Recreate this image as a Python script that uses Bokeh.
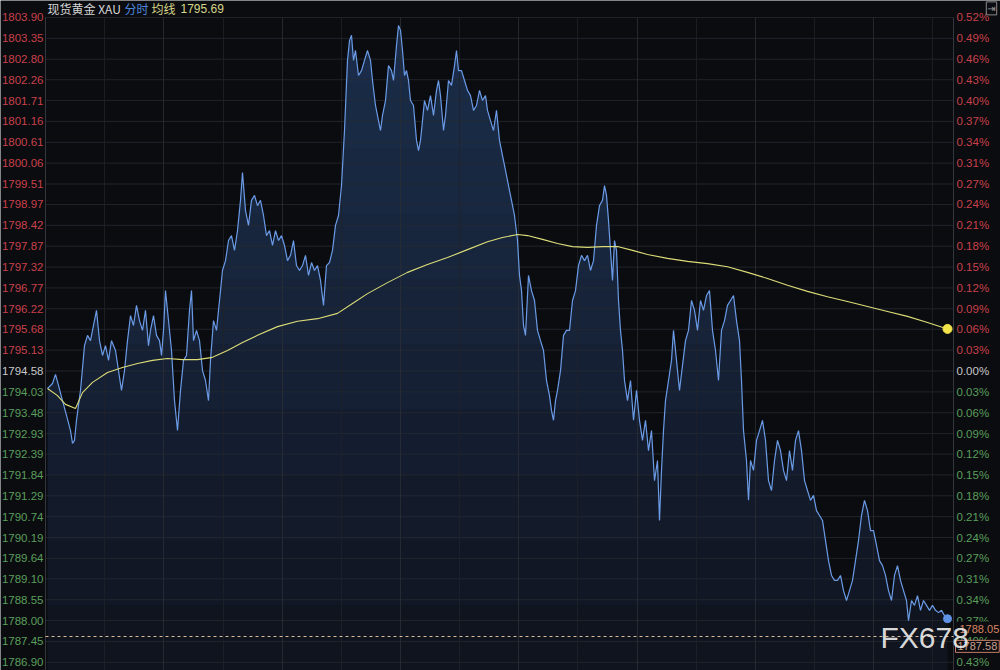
import numpy as np
from bokeh.plotting import figure
from bokeh.models import ColumnDataSource, LabelSet, Label, Range1d
from bokeh.core.properties import value
from bokeh.embed import file_html
from bokeh.resources import INLINE

# ---- data (minutes since start, price) ----
minutes = [0, 5, 8, 11, 15, 19, 23, 25, 27, 29, 33, 37, 40, 43, 46, 49, 52, 55, 58, 61,
           64, 68, 71, 74, 77, 80, 83, 86, 89, 92, 95, 98, 101, 103, 106, 109, 112, 114, 116, 118,
           121, 124, 127, 130, 133, 136, 139, 142, 144, 146, 149, 152, 155, 158, 161, 163, 166, 169, 172, 175,
           178, 181, 184, 187, 190, 193, 195, 198, 201, 204, 207, 210, 213, 216, 219, 222, 225, 228, 231, 234,
           237, 240, 243, 246, 249, 252, 255, 258, 261, 264, 267, 270, 273, 276, 279, 282, 285, 288, 291, 294,
           297, 300, 302, 304, 306, 308, 311, 314, 317, 320, 323, 325, 328, 331, 333, 335, 338, 341, 344, 346,
           349, 351, 353, 355, 357, 359, 361, 363, 366, 369, 371, 373, 375, 377, 380, 383, 386, 389, 391, 393,
           396, 398, 401, 404, 407, 409, 411, 414, 417, 420, 423, 426, 429, 432, 435, 438, 440, 443, 446, 449,
           452, 455, 458, 461, 464, 467, 470, 472, 474, 476, 478, 481, 484, 487, 490, 493, 496, 499, 502, 504,
           506, 508, 510, 513, 516, 519, 522, 525, 528, 531, 534, 537, 540, 543, 546, 549, 552, 555, 557, 559,
           561, 563, 565, 567, 569, 571, 573, 575, 577, 580, 583, 586, 589, 592, 595, 598, 601, 604, 607, 610,
           612, 614, 616, 618, 621, 624, 626, 629, 632, 635, 638, 641, 644, 647, 650, 653, 656, 659, 662, 665,
           668, 671, 674, 677, 680, 683, 686, 689, 692, 694, 696, 699, 701, 703, 706, 709, 712, 715, 718, 721,
           724, 727, 730, 733, 736, 739, 742, 745, 748, 751, 754, 757, 760, 763, 766, 769, 772, 775, 778, 781,
           784, 787, 790, 793, 796, 799, 802, 805, 808, 811, 814, 817, 820, 823, 826, 829, 832, 835, 838, 841,
           844, 847, 850, 853, 856, 859, 861, 864, 867, 870, 873, 876, 879, 882, 885, 888, 891, 894, 897, 900]
prices = [1794.12, 1794.25, 1794.49, 1794.20, 1793.80, 1793.41, 1793.01, 1792.67, 1792.75, 1793.28,
          1794.07, 1795.25, 1795.52, 1795.38, 1795.78, 1796.18, 1795.38, 1794.99, 1795.25, 1794.86,
          1795.38, 1795.12, 1794.59, 1794.07, 1794.59, 1795.38, 1796.04, 1795.78, 1796.31, 1795.91,
          1795.65, 1796.18, 1795.25, 1795.65, 1796.04, 1795.52, 1795.38, 1794.99, 1795.65, 1796.70,
          1795.91, 1795.12, 1793.80, 1793.01, 1794.07, 1794.86, 1794.99, 1796.18, 1796.70, 1795.38,
          1795.65, 1795.38, 1794.59, 1794.33, 1793.80, 1794.86, 1795.91, 1795.65, 1796.44, 1797.23,
          1797.49, 1798.02, 1798.15, 1797.76, 1798.28, 1799.08, 1799.81, 1798.81, 1798.42, 1799.08,
          1799.21, 1798.94, 1799.08, 1798.68, 1798.15, 1798.28, 1797.89, 1798.28, 1798.02, 1798.15,
          1797.89, 1797.49, 1797.63, 1798.02, 1797.36, 1797.23, 1797.36, 1797.63, 1797.10, 1797.44,
          1797.23, 1797.36, 1796.97, 1796.31, 1797.36, 1797.44, 1797.76, 1798.42, 1798.68, 1799.47,
          1800.92, 1802.77, 1803.29, 1803.43, 1802.77, 1803.03, 1802.37, 1802.50, 1802.77, 1803.03,
          1802.77, 1802.24, 1801.58, 1801.18, 1800.92, 1801.32, 1801.71, 1802.63, 1802.50, 1802.24,
          1803.16, 1803.69, 1803.56, 1803.03, 1802.37, 1802.50, 1802.24, 1801.71, 1801.58, 1800.66,
          1800.39, 1800.66, 1801.18, 1801.71, 1801.45, 1801.84, 1801.32, 1801.98, 1802.24, 1801.84,
          1800.92, 1801.32, 1802.24, 1802.11, 1802.63, 1803.03, 1802.50, 1802.50, 1802.24, 1801.98,
          1801.84, 1801.45, 1801.58, 1801.98, 1801.71, 1801.84, 1801.45, 1801.18, 1800.92, 1801.45,
          1800.66, 1800.26, 1799.87, 1799.47, 1799.08, 1798.68, 1798.02, 1797.10, 1796.70, 1795.78,
          1795.52, 1797.10, 1796.70, 1796.44, 1795.65, 1795.38, 1795.12, 1794.33, 1793.93, 1793.54,
          1793.28, 1793.80, 1794.07, 1794.59, 1795.52, 1795.65, 1795.65, 1796.44, 1796.70, 1797.36,
          1797.63, 1797.49, 1797.63, 1797.23, 1797.49, 1798.42, 1798.94, 1799.08, 1799.47, 1799.21,
          1798.55, 1797.76, 1796.97, 1798.02, 1797.76, 1796.44, 1795.65, 1795.12, 1794.33, 1793.80,
          1794.33, 1793.28, 1794.07, 1793.28, 1792.75, 1793.28, 1792.48, 1793.01, 1791.69, 1792.22,
          1790.64, 1791.96, 1793.01, 1793.80, 1794.33, 1794.86, 1795.65, 1794.86, 1794.07, 1794.73,
          1795.38, 1795.65, 1796.44, 1796.18, 1795.65, 1796.44, 1796.18, 1796.57, 1796.70, 1795.65,
          1795.12, 1794.33, 1795.65, 1795.91, 1796.31, 1796.44, 1796.57, 1795.91, 1795.38, 1794.33,
          1793.01, 1792.22, 1791.17, 1792.22, 1791.96, 1792.75, 1793.01, 1793.28, 1792.75, 1791.69,
          1791.43, 1792.22, 1792.75, 1792.48, 1791.96, 1791.69, 1792.48, 1791.96, 1792.75, 1793.01,
          1792.48, 1791.69, 1791.43, 1791.17, 1791.30, 1790.90, 1790.77, 1790.64, 1790.11, 1789.58,
          1789.19, 1789.06, 1789.06, 1789.19, 1788.79, 1788.53, 1788.79, 1789.06, 1789.58, 1790.11,
          1790.77, 1791.17, 1790.90, 1790.37, 1790.37, 1789.98, 1789.58, 1789.45, 1789.19, 1788.79,
          1788.53, 1789.19, 1789.45, 1789.06, 1788.79, 1788.53, 1788.00, 1788.53, 1788.40, 1788.66,
          1788.27, 1788.53, 1788.40, 1788.27, 1788.40, 1788.27, 1788.21, 1788.27, 1788.13, 1788.05]

avg_minutes = [0, 10, 18, 28, 35, 45, 60, 75, 90, 105, 120, 135, 150, 165, 180, 195, 210, 230, 250, 270,
               290, 305, 320, 340, 360, 380, 400, 420, 440, 455, 470, 480, 495, 510, 525, 540, 555, 570, 585, 600,
               620, 640, 660, 680, 700, 720, 740, 760, 780, 800, 820, 840, 860, 880, 900]
avg_prices = [1794.12, 1793.93, 1793.70, 1793.59, 1794.01, 1794.28, 1794.54, 1794.67, 1794.78, 1794.86,
              1794.91, 1794.88, 1794.88, 1794.94, 1795.12, 1795.33, 1795.52, 1795.75, 1795.89, 1795.96,
              1796.10, 1796.36, 1796.62, 1796.91, 1797.18, 1797.39, 1797.57, 1797.78, 1797.99, 1798.10,
              1798.18, 1798.15, 1798.05, 1797.94, 1797.86, 1797.84, 1797.86, 1797.86, 1797.76, 1797.65,
              1797.55, 1797.47, 1797.41, 1797.33, 1797.18, 1797.02, 1796.84, 1796.68, 1796.54, 1796.41,
              1796.28, 1796.15, 1796.02, 1795.86, 1795.69]

price_tick_labels = ["1803.90", "1803.35", "1802.80", "1802.26", "1801.71", "1801.16", "1800.61", "1800.06",
                     "1799.51", "1798.97", "1798.42", "1797.87", "1797.32", "1796.77", "1796.22", "1795.68",
                     "1795.13", "1794.58", "1794.03", "1793.48", "1792.93", "1792.39", "1791.84", "1791.29",
                     "1790.74", "1790.19", "1789.64", "1789.10", "1788.55", "1788.00", "1787.45", "1786.90"]
pct_tick_labels = ["0.52%", "0.49%", "0.46%", "0.43%", "0.40%", "0.37%", "0.34%", "0.31%",
                   "0.27%", "0.24%", "0.21%", "0.18%", "0.15%", "0.12%", "0.09%", "0.06%",
                   "0.03%", "0.00%", "0.03%", "0.06%", "0.09%", "0.12%", "0.15%", "0.18%",
                   "0.21%", "0.24%", "0.27%", "0.31%", "0.34%", "0.37%", "0.40%", "0.43%"]
time_grid_major = [116, 235, 353, 471, 590, 708, 826]
time_grid_minor = [57, 176, 294, 412, 530, 649, 767, 885]

prev_close = 1794.58
last_price = 1788.05
ref_price = 1787.58
avg_last = 1795.69

title_name = "现货黄金 XAU"
title_mode = "分时"
title_avg = "均线"

# ---- styling / layout ----
BG = "#0b0c10"
RED = "#c8414b"
GREEN = "#5a9e5c"
GREY = "#c8c8c8"
FONT = "Liberation Sans"
CJK = "Noto Sans CJK SC"

# whole canvas is the frame; the price panel occupies part of it
view_x = (-47, 953)
view_y = (1786.684, 1804.348)
pan_x0, pan_x1 = -2, 906          # panel left / right edge (time units)
pan_y0, pan_y1 = view_y[0], 1803.90

p = figure(width=1000, height=670, x_range=Range1d(*view_x), y_range=Range1d(*view_y),
           output_backend="svg", toolbar_location=None,
           x_axis_location=None, y_axis_location=None,
           background_fill_color=BG, border_fill_color=BG, min_border=0)
p.outline_line_color = None
p.center = []  # drop default grids

tick_vals = [float(s) for s in price_tick_labels]
mx = np.array(minutes, dtype=float)
py = np.array(prices, dtype=float)

# area under price line with a vertical gradient (layered)
p.varea(x=mx, y1=np.full_like(py, pan_y0), y2=py, fill_color="#0f141e", fill_alpha=1.0)
for lvl in np.linspace(pan_y0, pan_y1, 11)[1:-1]:
    p.varea(x=mx, y1=np.full_like(py, lvl), y2=np.maximum(py, lvl), fill_color="#3f5a8a", fill_alpha=0.055)

# grid
n = len(tick_vals)
p.segment(x0=[pan_x0] * n, y0=tick_vals, x1=[pan_x1] * n, y1=tick_vals, line_color="#262a31",
          line_width=1, line_alpha=0.8)
p.segment(x0=time_grid_major, y0=[pan_y0] * len(time_grid_major), x1=time_grid_major,
          y1=[pan_y1] * len(time_grid_major), line_color="#2a2e35", line_width=1, line_alpha=0.8)
p.segment(x0=time_grid_minor, y0=[pan_y0] * len(time_grid_minor), x1=time_grid_minor,
          y1=[pan_y1] * len(time_grid_minor), line_color="#1f2228", line_width=1, line_alpha=0.8)
p.segment(x0=[pan_x0, pan_x1], y0=[pan_y0, pan_y0], x1=[pan_x0, pan_x1], y1=[pan_y1, pan_y1],
          line_color="#34373e", line_width=1)

p.line(mx, py, line_color="#6b9be6", line_width=1.2)
p.line(avg_minutes, avg_prices, line_color="#dcdc78", line_width=1.1)

# reference (dashed) line
p.segment(x0=[pan_x0], y0=[ref_price], x1=[pan_x1], y1=[ref_price], line_color="#d9b99a",
          line_dash="3 3", line_width=1)

p.scatter([minutes[-1]], [prices[-1]], size=8, fill_color="#5f93e6", line_color="#5f93e6")
p.scatter([avg_minutes[-1]], [avg_prices[-1]], size=9, fill_color="#f2e44a", line_color="#f2e44a")

def col(v):
    if abs(v - prev_close) < 1e-6:
        return GREY
    return RED if v > prev_close else GREEN

colors = [col(v) for v in tick_vals]
left_src = ColumnDataSource(dict(x=[pan_x0] * n, y=tick_vals, t=price_tick_labels, c=colors))
right_src = ColumnDataSource(dict(x=[pan_x1] * n, y=tick_vals, t=pct_tick_labels, c=colors))
p.add_layout(LabelSet(x="x", y="y", text="t", source=left_src, text_color="c", x_offset=-2,
                      text_align="right", text_baseline="middle", text_font=value(FONT),
                      text_font_size="11.5px"))
p.add_layout(LabelSet(x="x", y="y", text="t", source=right_src, text_color="c", x_offset=3,
                      text_align="left", text_baseline="middle", text_font=value(FONT),
                      text_font_size="11.5px"))

# last price tags
p.add_layout(Label(x=pan_x1, y=1787.79, text=f"{last_price:.2f}", x_offset=3, text_align="left",
                   text_baseline="middle", text_color="#d88462", text_font=FONT,
                   text_font_size="11px", background_fill_color=BG, padding=3))
p.add_layout(Label(x=pan_x1, y=1787.32, text=f"{ref_price:.2f}", x_offset=2, text_align="left",
                   text_baseline="middle", text_color="#c9a090", text_font=FONT,
                   text_font_size="11px", background_fill_color=BG,
                   border_line_color="#c27a66", padding=2))

# title
ty = 1804.14
p.add_layout(Label(x=0, y=ty, text=title_name, text_align="left", text_baseline="middle",
                   text_color="#d6d6d6", text_font=CJK, text_font_size="12px"))
p.add_layout(Label(x=77, y=ty, text=title_mode, text_align="left", text_baseline="middle",
                   text_color="#4d86dc", text_font=CJK, text_font_size="12px"))
p.add_layout(Label(x=104, y=ty, text=title_avg, text_align="left", text_baseline="middle",
                   text_color="#d6d68a", text_font=CJK, text_font_size="12px"))
p.add_layout(Label(x=133, y=ty, text=f"{avg_last:.2f}", text_align="left", text_baseline="middle",
                   text_color="#d6d68a", text_font=FONT, text_font_size="12px"))
# small exit icon at top right
p.add_layout(Label(x=944, y=ty, text="⇥", text_align="center", text_baseline="middle",
                   text_color="#9a9a9a", text_font="DejaVu Sans", text_font_size="10px",
                   border_line_color="#8a8a8a", padding=1))

# watermark
p.add_layout(Label(x=833, y=1787.55, text="FX678", text_align="left", text_baseline="middle",
                   text_color="#ececec", text_alpha=0.92, text_font=FONT,
                   text_font_size="30px"))

open("out.html", "w").write(file_html(p, INLINE))
